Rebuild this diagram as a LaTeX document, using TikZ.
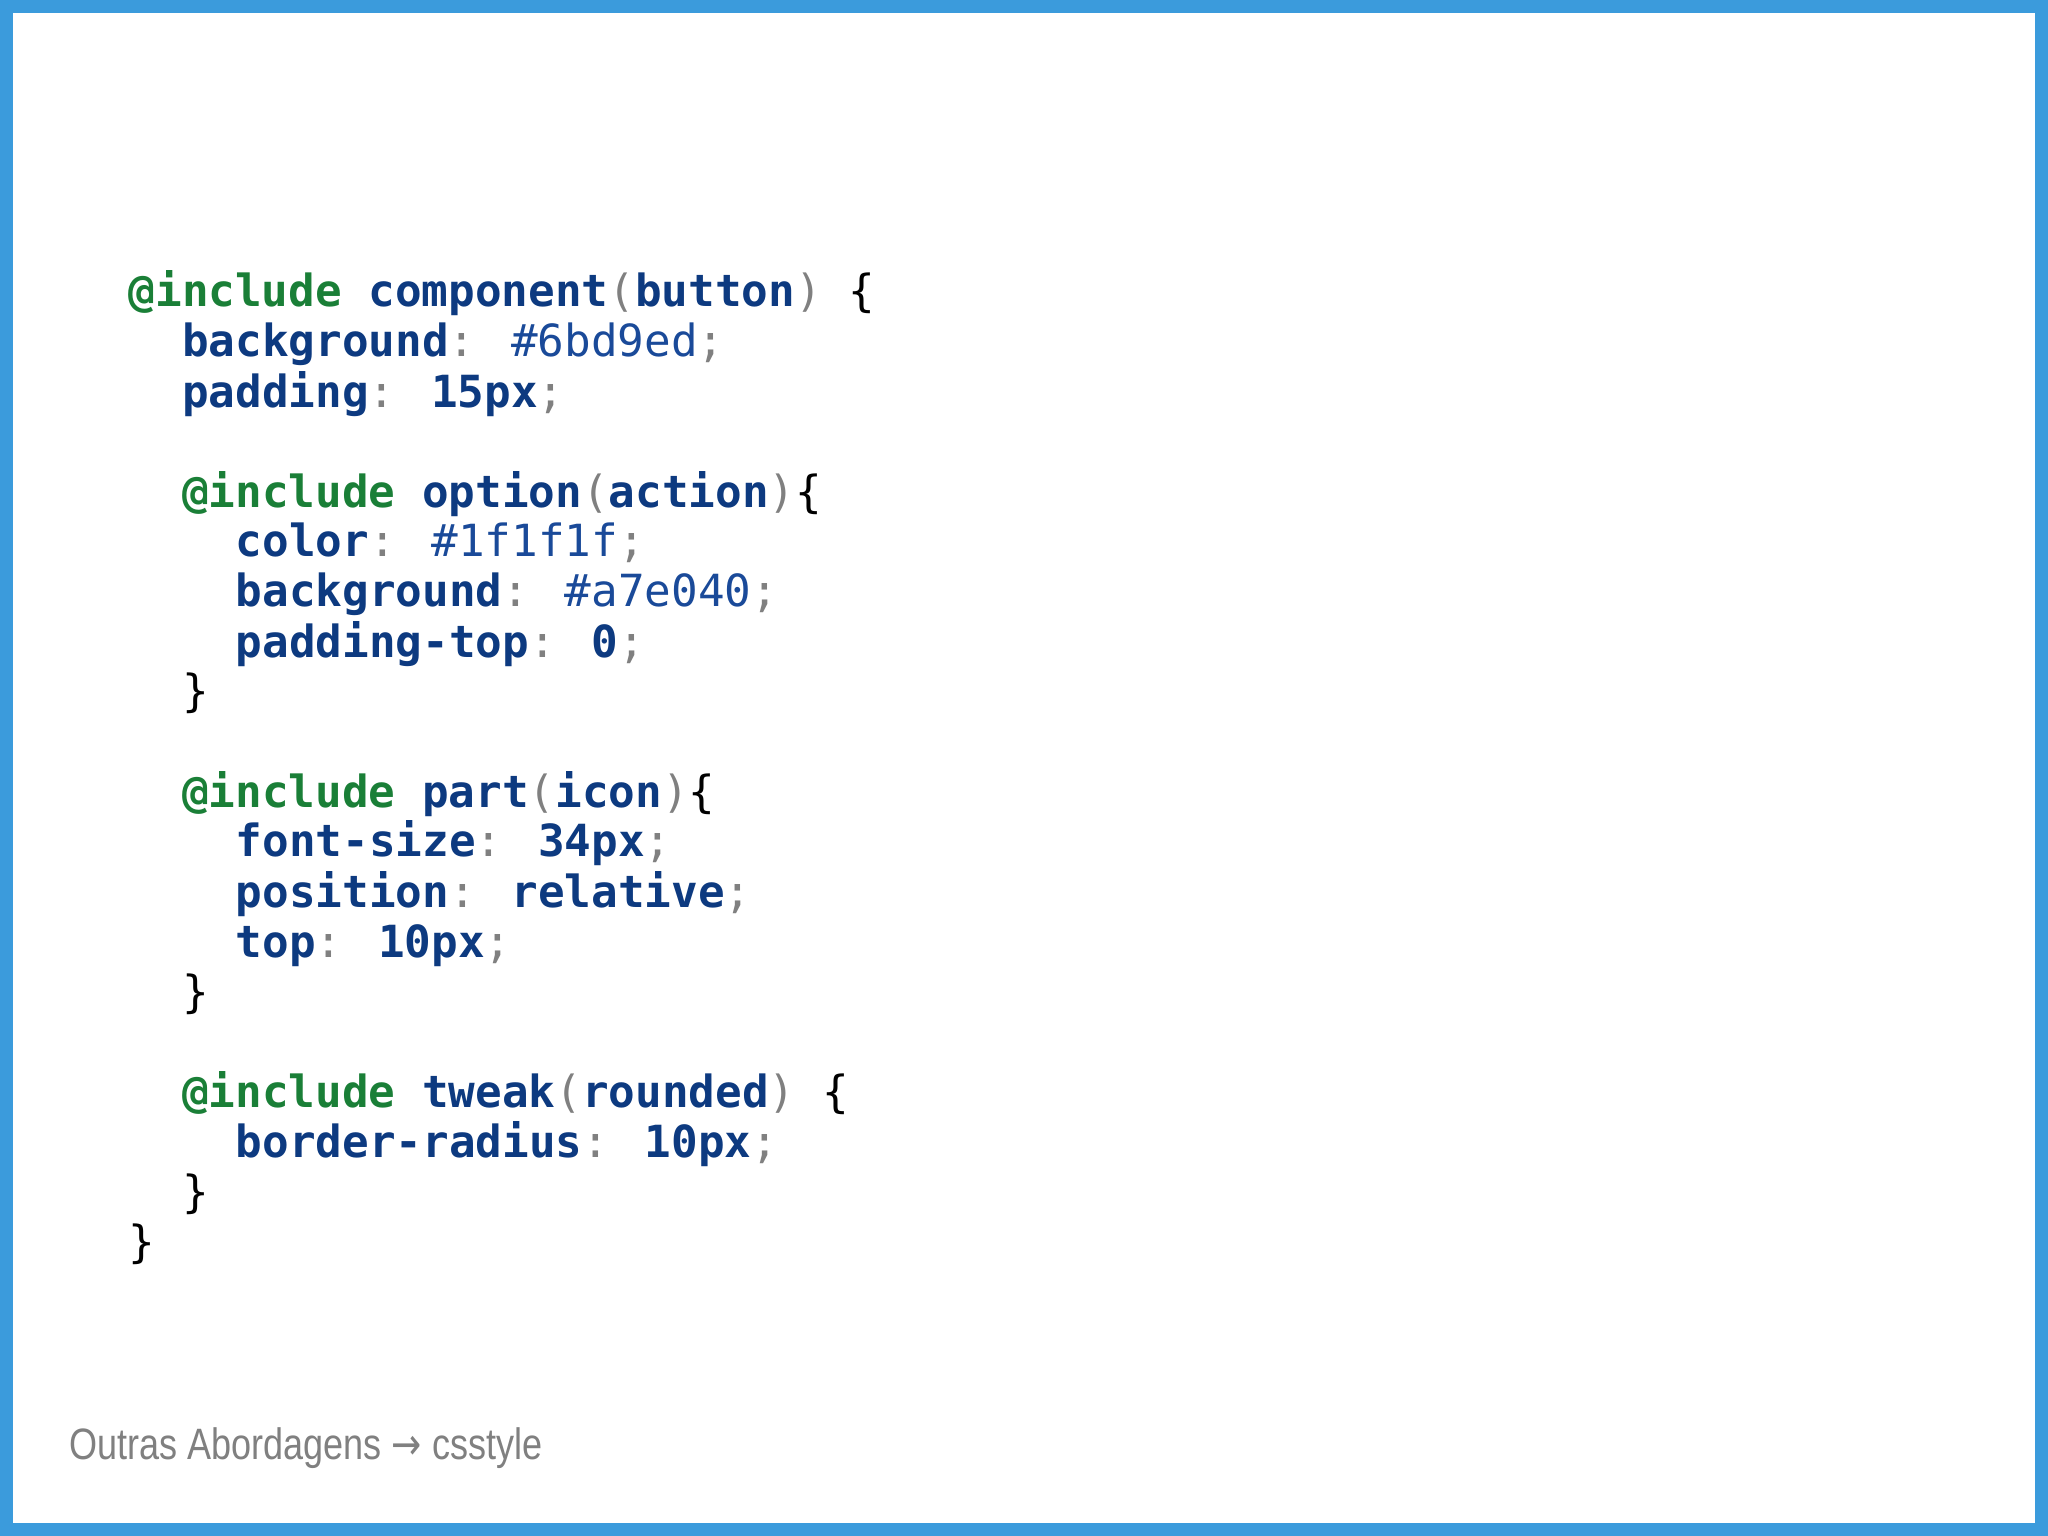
\documentclass[tikz,border=0pt]{standalone}
\usepackage{fontspec}
\newfontfamily\codefont{DejaVu Sans Mono}
\newfontfamily\footfont{Liberation Sans}
\newfontfamily\symfont{DejaVu Sans}
\definecolor{frameblue}{HTML}{3B9BDC}
\definecolor{cgreen}{HTML}{1A7F37}
\definecolor{cblue}{HTML}{0D3A80}
\definecolor{cval}{HTML}{1A4A99}
\definecolor{cgray}{HTML}{808080}
\newcommand\cAt[1]{{\bfseries\color{cgreen}#1}}
\newcommand\cK[1]{{\bfseries\color{cblue}#1}}
\newcommand\cV[1]{{\mdseries\color{cval}#1}}
\newcommand\cP[1]{{\mdseries\color{cgray}#1}}
\newcommand\cB[1]{{\mdseries\color{black}#1}}
\tikzset{codeline/.style={anchor=base west,inner sep=0pt,font=\codefont\fontsize{12.6}{15}\selectfont}}
\begin{document}
\begin{tikzpicture}[x=1cm,y=1cm]
\fill[frameblue] (0,0) rectangle (20.48,-15.36);
\fill[white] (0.13,-0.13) rectangle (20.35,-15.23);
\useasboundingbox (0,0) rectangle (20.48,-15.36);
\def\ind{0.536}
\def\lx{1.28}
\node[codeline] (l0) at (\lx,-3.07) {\cAt{@include} \cK{component}\cP{(}\cK{button}\cP{)} \cB{\{}};
\node[codeline] (l1) at (\lx+\ind,-3.57) {\cK{background}\cP{:} \cV{\#6bd9ed}\cP{;}};
\node[codeline] (l2) at (\lx+\ind,-4.07) {\cK{padding}\cP{:} \cK{15px}\cP{;}};
\node[codeline] (l4) at (\lx+\ind,-5.07) {\cAt{@include} \cK{option}\cP{(}\cK{action}\cP{)}\cB{\{}};
\node[codeline] (l5) at (\lx+2*\ind,-5.57) {\cK{color}\cP{:} \cV{\#1f1f1f}\cP{;}};
\node[codeline] (l6) at (\lx+2*\ind,-6.07) {\cK{background}\cP{:} \cV{\#a7e040}\cP{;}};
\node[codeline] (l7) at (\lx+2*\ind,-6.57) {\cK{padding-top}\cP{:} \cK{0}\cP{;}};
\node[codeline] (l8) at (\lx+\ind,-7.07) {\cB{\}}};
\node[codeline] (l10) at (\lx+\ind,-8.07) {\cAt{@include} \cK{part}\cP{(}\cK{icon}\cP{)}\cB{\{}};
\node[codeline] (l11) at (\lx+2*\ind,-8.57) {\cK{font-size}\cP{:} \cK{34px}\cP{;}};
\node[codeline] (l12) at (\lx+2*\ind,-9.07) {\cK{position}\cP{:} \cK{relative}\cP{;}};
\node[codeline] (l13) at (\lx+2*\ind,-9.57) {\cK{top}\cP{:} \cK{10px}\cP{;}};
\node[codeline] (l14) at (\lx+\ind,-10.07) {\cB{\}}};
\node[codeline] (l16) at (\lx+\ind,-11.07) {\cAt{@include} \cK{tweak}\cP{(}\cK{rounded}\cP{)} \cB{\{}};
\node[codeline] (l17) at (\lx+2*\ind,-11.57) {\cK{border-radius}\cP{:} \cK{10px}\cP{;}};
\node[codeline] (l18) at (\lx+\ind,-12.07) {\cB{\}}};
\node[codeline] (l19) at (\lx,-12.57) {\cB{\}}};
\node[anchor=base west,inner sep=0pt,text=cgray,font=\footfont\fontsize{12.5}{15}\selectfont,xscale=0.82] (foot) at (0.69,-14.59) {Outras Abordagens {\symfont→} csstyle};
\end{tikzpicture}
\end{document}
